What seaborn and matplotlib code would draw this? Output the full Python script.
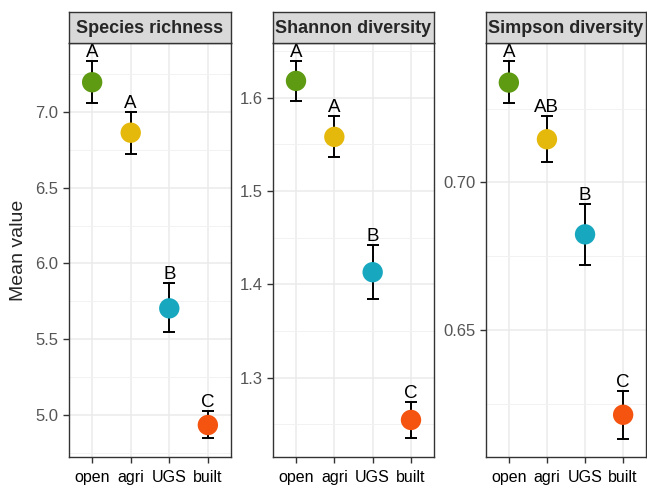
import matplotlib
matplotlib.use("Agg")
import matplotlib.pyplot as plt
import seaborn as sns
import pandas as pd
import numpy as np
from matplotlib.ticker import MultipleLocator

sns.set_theme(style="white")
plt.rcParams['font.family'] = ['Liberation Sans', 'DejaVu Sans']

categories = ["open", "agri", "UGS", "built"]
colors = ["#5E9A12", "#E5B90C", "#17A8BF", "#F4540F"]

panel_titles = ["Species richness", "Shannon diversity", "Simpson diversity"]

richness_mean = [7.196, 6.863, 5.704, 4.934]
richness_lo = [7.061, 6.723, 5.545, 4.846]
richness_hi = [7.337, 7.002, 5.869, 5.026]
richness_letters = ["A", "A", "B", "C"]

shannon_mean = [1.618, 1.558, 1.413, 1.2547]
shannon_lo = [1.5968, 1.536, 1.3843, 1.2354]
shannon_hi = [1.639, 1.5804, 1.442, 1.2743]
shannon_letters = ["A", "A", "B", "C"]

simpson_mean = [0.7338, 0.7146, 0.6824, 0.6213]
simpson_lo = [0.7270, 0.7068, 0.6720, 0.6132]
simpson_hi = [0.7411, 0.7225, 0.6928, 0.6293]
simpson_letters = ["A", "AB", "B", "C"]

ylims = [(4.723, 7.455), (1.215, 1.6586), (0.6070, 0.7472)]
major_steps = [0.5, 0.1, 0.05]

panels = [
    (richness_mean, richness_lo, richness_hi, richness_letters),
    (shannon_mean, shannon_lo, shannon_hi, shannon_letters),
    (simpson_mean, simpson_lo, simpson_hi, simpson_letters),
]

W, H = 647, 492
fig = plt.figure(figsize=(W / 100, H / 100), dpi=100)

lefts = [69, 273, 486]
widths = [162, 161, 160]
ptop, pbot = 43, 457
stop = 12

for i, (mean, lo, hi, letters) in enumerate(panels):
    l = lefts[i] / W
    w = widths[i] / W
    ax = fig.add_axes([l, 1 - pbot / H, w, (pbot - ptop) / H])
    df = pd.DataFrame({"group": categories, "value": mean, "lo": lo, "hi": hi})
    df["group"] = pd.Categorical(df["group"], categories=categories, ordered=True)

    ax.set_axisbelow(True)
    ax.errorbar(x=np.arange(len(categories)), y=df["value"],
                yerr=[df["value"] - df["lo"], df["hi"] - df["value"]],
                fmt="none", ecolor="black", elinewidth=1.4, capsize=4.5,
                capthick=1.4, zorder=2)
    sns.scatterplot(data=df, x=np.arange(len(categories)), y="value", hue="group",
                    palette=colors, s=215, edgecolor="none", legend=False,
                    ax=ax, zorder=3)
    for j, (h, lab) in enumerate(zip(hi, letters)):
        ax.text(j, h, lab, ha="center", va="bottom", fontsize=13.5,
                color="black", zorder=4)

    ax.set_xlim(-0.6, 3.6)
    ax.set_ylim(*ylims[i])
    ax.set_xticks(range(len(categories)))
    ax.set_xticklabels(categories)
    ax.yaxis.set_major_locator(MultipleLocator(major_steps[i]))
    ax.yaxis.set_minor_locator(MultipleLocator(major_steps[i] / 2))
    ax.grid(True, which="major", color="#EBEBEB", linewidth=1.1)
    ax.grid(True, which="minor", axis="y", color="#F2F2F2", linewidth=0.7)
    ax.tick_params(axis="both", which="major", length=4.5, width=1.0,
                   color="#333333", direction="out", bottom=True, left=True)
    ax.tick_params(axis="x", labelsize=11.5, labelcolor="black", pad=5)
    ax.tick_params(axis="y", labelsize=12, labelcolor="#555555", pad=3)
    ax.tick_params(axis="y", which="minor", length=0)
    ax.set_xlabel("")
    ax.set_ylabel("Mean value" if i == 0 else "", fontsize=14, labelpad=6)
    for sp in ax.spines.values():
        sp.set_color("#333333")
        sp.set_linewidth(1.0)
    ax.set_facecolor("white")

    sax = fig.add_axes([l, 1 - ptop / H, w, (ptop - stop) / H])
    sax.set_facecolor("#D9D9D9")
    sax.set_xticks([])
    sax.set_yticks([])
    for sp in sax.spines.values():
        sp.set_color("#333333")
        sp.set_linewidth(1.0)
    sax.text(0.5, 0.47, panel_titles[i], ha="center", va="center",
             fontsize=13, fontweight="bold", transform=sax.transAxes)

fig.savefig("out.png", dpi=100, facecolor="white")
